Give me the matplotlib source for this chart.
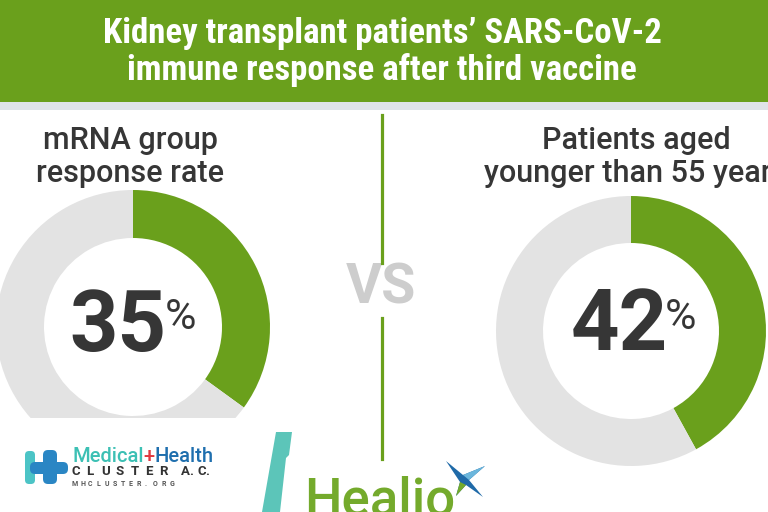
import matplotlib
matplotlib.use("Agg")
import matplotlib.pyplot as plt
from matplotlib.patches import Rectangle, FancyBboxPatch, Polygon

# ---- data ----
title_lines = ["Kidney transplant patients\u2019 SARS-CoV-2", "immune response after third vaccine"]
left_label = "mRNA group\nresponse rate"
right_label = "Patients aged\nyounger than 55 years"
left_values = [35, 65]
right_values = [42, 58]
left_pct = "35"
right_pct = "42"

GREEN = "#6aa01c"
GREY = "#e3e3e3"
DARK = "#363636"
W, H = 768, 512

fig = plt.figure(figsize=(7.68, 5.12), dpi=100)
ax = fig.add_axes([0, 0, 1, 1])

def Y(py):
    return H - py

# donuts
ax.pie(left_values, colors=[GREEN, GREY], startangle=90, counterclock=False,
       radius=137, center=(133, Y(327)),
       wedgeprops=dict(width=48, edgecolor="none", linewidth=0))
ax.pie(right_values, colors=[GREEN, GREY], startangle=90, counterclock=False,
       radius=135, center=(631, Y(331)),
       wedgeprops=dict(width=47, edgecolor="none", linewidth=0))

ax.set_xlim(0, W)
ax.set_ylim(0, H)
ax.set_aspect("auto")
ax.axis("off")

# header
ax.add_patch(Rectangle((0, Y(102)), W, 102, color=GREEN, zorder=5, lw=0))
ax.add_patch(Rectangle((0, Y(110)), W, 8, color="#dfe4e8", zorder=5, lw=0))
title_font = ["Liberation Sans Narrow", "Roboto Condensed", "Roboto", "DejaVu Sans"]
ax.text(382, Y(33), title_lines[0], ha="center", va="center", color="white",
        fontsize=25, fontweight="bold", family=title_font, zorder=6)
ax.text(382, Y(70), title_lines[1], ha="center", va="center", color="white",
        fontsize=25, fontweight="bold", family=title_font, zorder=6)

# cover bottom of left donut
ax.add_patch(Rectangle((0, 0), 300, Y(418), color="white", zorder=3, lw=0))

# labels
ax.text(130, Y(157), left_label, ha="center", va="center", color=DARK,
        fontsize=22, fontweight="medium", family=["Roboto", "DejaVu Sans"],
        linespacing=1.2, zorder=4)
ax.text(636, Y(157), right_label, ha="center", va="center", color=DARK,
        fontsize=22, fontweight="medium", family=["Roboto", "DejaVu Sans"],
        linespacing=1.2, zorder=4)

# big numbers
for cx, num, px in [(118, left_pct, 165), (619, right_pct, 665)]:
    ax.text(cx, Y(327), num, ha="center", va="center", color=DARK,
            fontsize=61, fontweight="bold", family=["Roboto", "DejaVu Sans"], zorder=4)
    ax.text(px, Y(297), "%", ha="left", va="top", color=DARK,
            fontsize=31, family=["Roboto", "DejaVu Sans"], zorder=4)

# VS and divider
ax.text(381, Y(288), "VS", ha="center", va="center", color="#cdcdcd",
        fontsize=40, fontweight="bold", family=["Roboto", "DejaVu Sans"], zorder=4)
ax.plot([381.5, 381.5], [Y(115), Y(263)], color=GREEN, lw=2.3, zorder=4)
ax.plot([381.5, 381.5], [Y(318), Y(459)], color=GREEN, lw=2.3, zorder=4)

# Medical+Health logo
ax.add_patch(FancyBboxPatch((25, Y(484)), 10, 33, boxstyle="round,pad=0,rounding_size=4",
                            color="#4cc4c6", lw=0, zorder=6))
ax.add_patch(FancyBboxPatch((30, Y(474)), 38, 12, boxstyle="round,pad=0,rounding_size=5",
                            color="#2a86c4", lw=0, zorder=7))
ax.add_patch(FancyBboxPatch((43, Y(484)), 14, 34, boxstyle="round,pad=0,rounding_size=5",
                            color="#2a86c4", lw=0, zorder=7))
fig.canvas.draw()
r = fig.canvas.get_renderer()
x0 = 72
for part, col in [("Medical", "#3cc0b4"), ("+", "#e0383e"), ("Health", "#1f6fae")]:
    t = ax.text(x0, Y(462), part, ha="left", va="baseline", color=col,
                fontsize=14.5, fontweight="medium", family=["Roboto", "DejaVu Sans"], zorder=6)
    bb = t.get_window_extent(renderer=r)
    x0 += bb.width
cluster = "CLUSTER"
for i, ch in enumerate(cluster):
    ax.text(72 + i * 14.6, Y(475), ch, ha="left", va="baseline", color="#333333",
            fontsize=9.5, fontweight="bold", family=["Roboto", "DejaVu Sans"], zorder=6)
for i, ch in enumerate("A.C."):
    ax.text(181 + i * 8.2, Y(475), ch, ha="left", va="baseline", color="#333333",
            fontsize=9.5, fontweight="bold", family=["Roboto", "DejaVu Sans"], zorder=6)
for i, ch in enumerate("MHCLUSTER.ORG"):
    ax.text(72 + i * 8.1, Y(486), ch, ha="left", va="baseline", color="#555555",
            fontsize=5, fontweight="bold", family=["Roboto", "DejaVu Sans"], zorder=6)

# teal slash
ax.add_patch(Polygon([(276, Y(432)), (292, Y(432)), (289, Y(455)), (286, Y(458)),
                      (280, Y(512)), (262, Y(512))], closed=True, color="#5cc5b9", lw=0, zorder=6))

# Healio logo
ax.text(304, Y(475), "Healio", ha="left", va="top", color="#74aa2c",
        fontsize=38, fontweight="medium", family=["Roboto", "DejaVu Sans"], zorder=6)
cx, cy = 465, 481
star = [(446, 461), (cx - 2, cy - 6), (485, 466), (cx + 4, cy - 1), (483, 497),
        (cx + 1, cy + 4), (456, 496), (cx - 5, cy + 1)]
ax.add_patch(Polygon([(x, Y(y)) for x, y in star], closed=True, color="#1f6aa8", lw=0, zorder=7))
ax.add_patch(Polygon([(x, Y(y)) for x, y in [(cx + 4, cy - 1), (485, 466), (cx - 2, cy - 6)]],
                     closed=True, color="#6bb6dc", lw=0, zorder=8))
ax.add_patch(Polygon([(x, Y(y)) for x, y in [(cx + 1, cy + 4), (456, 496), (cx - 5, cy + 1)]],
                     closed=True, color="#74aa2c", lw=0, zorder=8))

fig.savefig("out.png", dpi=100)
